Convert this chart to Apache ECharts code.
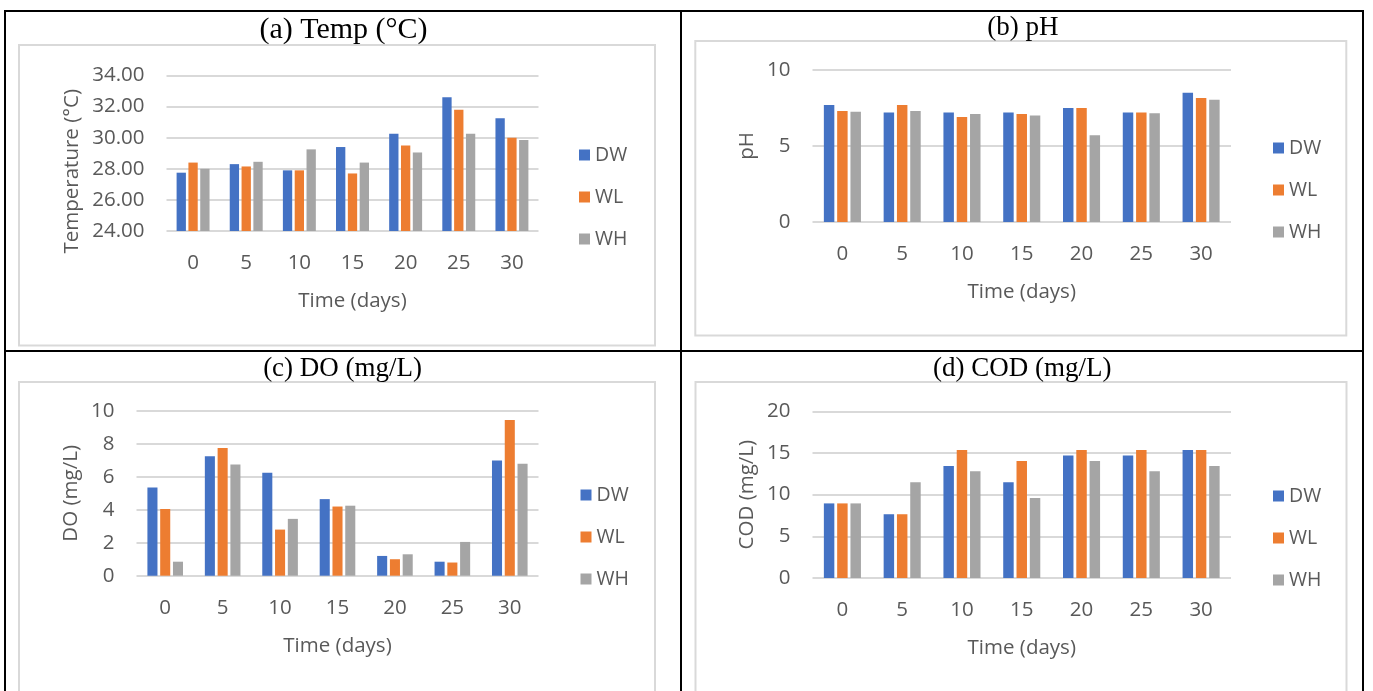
<!DOCTYPE html>
<html>
<head>
<meta charset="utf-8">
<script src="https://cdn.jsdelivr.net/npm/echarts@6/dist/echarts.min.js"></script>
<style>
  html, body { margin: 0; padding: 0; background: #fff; }
  #main { width: 1373px; height: 691px; }
</style>
</head>
<body>
<div id="main"></div>
<script>
// x categories (days)
const days = ['0', '5', '10', '15', '20', '25', '30'];
const names = ['DW', 'WL', 'WH'];
const colors = ['#4472C4', '#ED7D31', '#A5A5A5'];

// (a) temperature
const tempDW = [27.75, 28.3, 27.9, 29.4, 30.25, 32.6, 31.25];
const tempWL = [28.4, 28.15, 27.9, 27.7, 29.5, 31.8, 30.0];
const tempWH = [28.0, 28.45, 29.25, 28.4, 29.05, 30.25, 29.85];
// (b) pH
const phDW = [7.7, 7.2, 7.2, 7.2, 7.5, 7.2, 8.5];
const phWL = [7.3, 7.7, 6.9, 7.1, 7.5, 7.2, 8.15];
const phWH = [7.25, 7.3, 7.1, 7.0, 5.7, 7.15, 8.05];
// (c) DO
const doDW = [5.35, 7.25, 6.25, 4.65, 1.2, 0.85, 7.0];
const doWL = [4.05, 7.75, 2.8, 4.2, 1.0, 0.8, 9.45];
const doWH = [0.85, 6.75, 3.45, 4.25, 1.3, 2.05, 6.8];
// (d) COD
const codDW = [8.95, 7.65, 13.45, 11.5, 14.7, 14.7, 15.35];
const codWL = [8.95, 7.65, 15.35, 14.05, 15.35, 15.35, 15.35];
const codWH = [8.95, 11.5, 12.8, 9.6, 14.05, 12.8, 13.45];

// y axis ranges [min, max, interval]
const tempRange = [24, 34, 2];
const phRange = [0, 10, 5];
const doRange = [0, 10, 2];
const codRange = [0, 20, 5];

const panels = [
  { title: '(a) Temp (°C)', tx: 343.5, ty: 15.5, tsize: 30, yName: 'Temperature (°C)', data: [tempDW, tempWL, tempWH], range: tempRange, digits: 2,
    grid: { left: 166.5, top: 75.5, width: 372, height: 155.5 }, nameGap: 84, namePad: [0, 36, 0, 0], legend: { left: 579, top: 145 } },
  { title: '(b) pH', tx: 1022.9, ty: 14, tsize: 27, yName: 'pH', data: [phDW, phWL, phWH], range: phRange, digits: 0,
    grid: { left: 812.5, top: 70, width: 418.5, height: 152 }, nameGap: 55, namePad: 0, legend: { left: 1273, top: 138 } },
  { title: '(c) DO (mg/L)', tx: 342.6, ty: 355.5, tsize: 27, yName: 'DO (mg/L)', data: [doDW, doWL, doWH], range: doRange, digits: 0,
    grid: { left: 136.5, top: 411, width: 402, height: 164.7 }, nameGap: 55, namePad: 0, legend: { left: 580.5, top: 485 } },
  { title: '(d) COD (mg/L)', tx: 1022.3, ty: 355.5, tsize: 27, yName: 'COD (mg/L)', data: [codDW, codWL, codWH], range: codRange, digits: 0,
    grid: { left: 812.5, top: 411.3, width: 418.5, height: 166.7 }, nameGap: 55, namePad: 0, legend: { left: 1273, top: 486 } }
];

const axisFont = { fontFamily: 'Open Sans', fontSize: 20.5, color: '#595959' };

const myChart = echarts.init(document.getElementById('main'));

const option = {
  animation: false,
  title: [], grid: [], xAxis: [], yAxis: [], legend: [], series: [],
  graphic: [
    // table lines
    { type: 'rect', shape: { x: 4, y: 10, width: 1360, height: 2 }, style: { fill: '#000' } },
    { type: 'rect', shape: { x: 4, y: 350, width: 1360, height: 2 }, style: { fill: '#000' } },
    { type: 'rect', shape: { x: 4, y: 10, width: 2, height: 681 }, style: { fill: '#000' } },
    { type: 'rect', shape: { x: 680, y: 10, width: 2, height: 681 }, style: { fill: '#000' } },
    { type: 'rect', shape: { x: 1362, y: 10, width: 2, height: 681 }, style: { fill: '#000' } },
    // chart areas
    { type: 'rect', shape: { x: 19, y: 45, width: 636, height: 300.5 }, style: { fill: 'none', stroke: '#D9D9D9', lineWidth: 2 } },
    { type: 'rect', shape: { x: 695.3, y: 41, width: 651, height: 294.5 }, style: { fill: 'none', stroke: '#D9D9D9', lineWidth: 2 } },
    { type: 'rect', shape: { x: 19, y: 382, width: 636, height: 400 }, style: { fill: 'none', stroke: '#D9D9D9', lineWidth: 2 } },
    { type: 'rect', shape: { x: 695.5, y: 382, width: 651, height: 400 }, style: { fill: 'none', stroke: '#D9D9D9', lineWidth: 2 } }
  ]
};

panels.forEach((p, i) => {
  option.title.push({
    text: p.title, left: p.tx, top: p.ty, textAlign: 'center', padding: 0,
    textStyle: { fontFamily: 'Liberation Serif', fontSize: p.tsize, fontWeight: 'normal', color: '#000' }
  });
  option.grid.push(p.grid);
  option.xAxis.push({
    type: 'category', gridIndex: i, data: days,
    axisLine: { show: false }, axisTick: { show: false },
    axisLabel: Object.assign({ margin: 22 }, axisFont),
    name: 'Time (days)', nameLocation: 'middle', nameGap: 60,
    nameTextStyle: axisFont
  });
  option.yAxis.push({
    type: 'value', gridIndex: i, min: p.range[0], max: p.range[1], interval: p.range[2],
    axisLine: { show: false }, axisTick: { show: false },
    axisLabel: Object.assign({ margin: 22, formatter: v => v.toFixed(p.digits) }, axisFont),
    splitLine: { lineStyle: { color: '#D9D9D9', width: 2 } },
    name: p.yName, nameLocation: 'middle', nameGap: p.nameGap,
    nameTextStyle: Object.assign({ padding: p.namePad }, axisFont)
  });
  option.legend.push({
    data: names, orient: 'vertical', left: p.legend.left, top: p.legend.top, padding: 0,
    icon: 'rect', itemWidth: 11, itemHeight: 11, itemGap: 22,
    textStyle: { fontFamily: 'Open Sans', fontSize: 19.5, color: '#595959' }
  });
  p.data.forEach((vals, k) => {
    option.series.push({
      name: names[k], type: 'bar', xAxisIndex: i, yAxisIndex: i, data: vals,
      barGap: '27%', barCategoryGap: '38%',
      itemStyle: { color: colors[k] }
    });
  });
});

myChart.setOption(option);
</script>
</body>
</html>
